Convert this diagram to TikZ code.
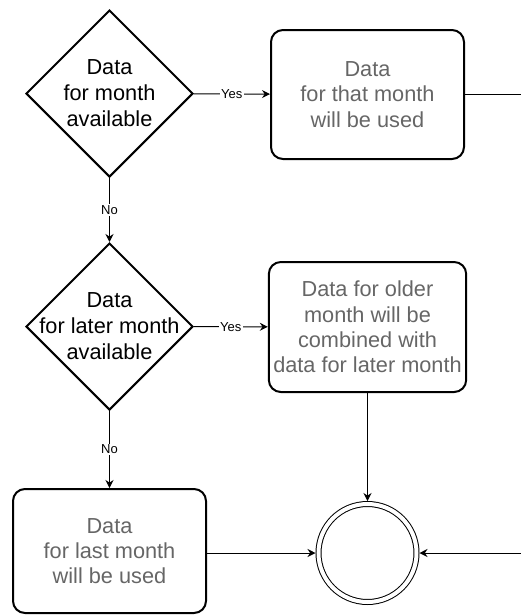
\documentclass[tikz,border=0pt]{standalone}
\usepackage{fontspec}
\setmainfont{Liberation Sans}
\usetikzlibrary{arrows.meta, shapes.geometric, positioning}
\definecolor{boxtext}{HTML}{666666}

\begin{document}
\begin{tikzpicture}[x=0.75pt, y=-0.75pt,
		decision/.style = {draw, diamond, line width=1.5pt, inner sep=0pt,
					minimum width=125.25pt, minimum height=125.25pt},
		dtext/.style = {align=center, font=\fontsize{16.3}{19.5}\selectfont},
		action/.style = {draw, rectangle, rounded corners=9pt, line width=1.5pt,
					minimum width=144.75pt, align=center, text=boxtext,
					font=\fontsize{16.3}{19}\selectfont},
		merge/.style = {draw, circle, double, line width=0.75pt, double distance=3pt,
					minimum size=73.5pt, inner sep=0pt, outer sep=2.25pt},
		flow/.style = {-{Stealth[length=6pt, width=6pt, inset=2pt]}, line width=0.75pt},
		answer/.style = {fill=white, inner sep=1pt, font=\fontsize{9.75}{11}\selectfont}
		]

%Canvas
	\useasboundingbox (0,0) rectangle (521,615);

%Decisions
	\node[decision, label={[dtext]center:{Data\\for month\\available}}] (month) at (109.5,93.5) {};
	\node[decision, label={[dtext]center:{Data\\for later month\\available}}] (later) at (109.5,326.5) {};

%Actions
	\node[action, minimum height=96.75pt] (thatmonth) at (367.5,94.5) {Data\\for that month\\will be used};
	\node[action, minimum height=97.5pt] (combine) at (367.5,327) {Data for older\\month will be\\combined with\\data for later month};
	\node[action, minimum height=93pt] (lastmonth) at (109.5,551) {Data\\for last month\\will be used};

%Merge point
	\node[merge] (end) at (367.5,553) {};

%Loose ends at the right border
	\coordinate (out) at (521,94.5);
	\coordinate (in) at (521,553);

%Connectors
	\draw[flow] (month) -- node[answer] {Yes} (thatmonth);
	\draw[flow] (month) -- node[answer] {No} (later);
	\draw[flow] (later) -- node[answer] {Yes} (combine);
	\draw[flow] (later) -- node[answer] {No} (lastmonth);
	\draw[line width=0.75pt] (thatmonth) -- (out);
	\draw[flow] (combine) -- (end);
	\draw[flow] (lastmonth.east |- end) -- (end);
	\draw[flow] (in) -- (end);

\end{tikzpicture}
\end{document}
